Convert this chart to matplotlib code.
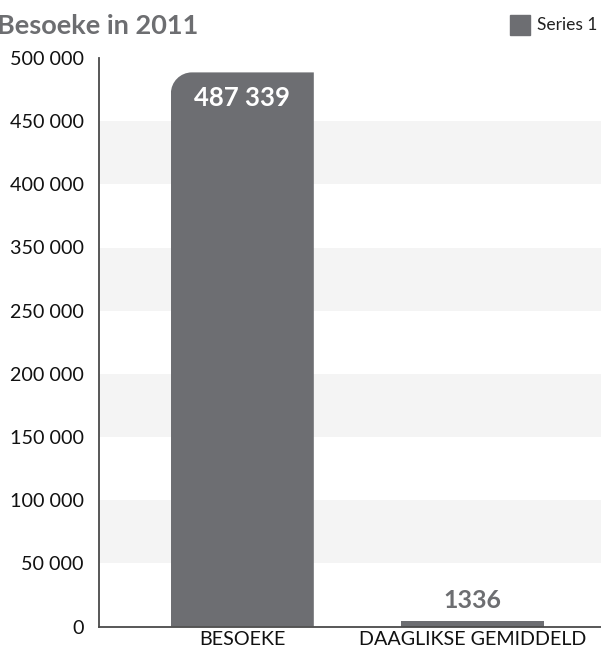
import numpy as np
import matplotlib
matplotlib.use("Agg")
import matplotlib.pyplot as plt
from matplotlib.path import Path
from matplotlib.patches import PathPatch
from matplotlib.transforms import IdentityTransform, offset_copy

# --- data -------------------------------------------------------------
categories = ["BESOEKE", "DAAGLIKSE GEMIDDELD"]
values = [487339, 1336]
value_labels = ["487 339", "1336"]
series_name = "Series 1"
title = "Besoeke in 2011"
y_max = 500000
y_tick_labels = ["0", "50 000", "100 000", "150 000", "200 000",
                 "250 000", "350 000", "400 000", "450 000", "500 000"]

# --- style ------------------------------------------------------------
BAR = "#6d6e72"
BAND = "#f4f4f4"
TEXT_GREY = "#6d6e71"
FONT = ["Lato", "DejaVu Sans"]

W, H, DPI = 601, 648, 100
fig = plt.figure(figsize=(W / DPI, H / DPI), dpi=DPI)
ax = fig.add_axes([99 / W, (H - 626.5) / H, (W - 99) / W, (626.5 - 58) / H])
ax.set_xlim(-0.622, 1.556)
ax.set_ylim(0, y_max)

tick_pos = np.linspace(0, y_max, len(y_tick_labels))

# alternating background bands
for i in range(1, len(tick_pos) - 1, 2):
    ax.axhspan(tick_pos[i], tick_pos[i + 1], color=BAND, lw=0, zorder=0)

# bars (tiny values get a minimum visible height)
min_h = y_max * 6 / 568.5
x = np.arange(len(categories))
heights = [max(v, min_h) for v in values]
bars = ax.bar(x, heights, width=0.62, color=BAR, zorder=2)

# axis styling
for s in ["top", "right"]:
    ax.spines[s].set_visible(False)
for s in ["left", "bottom"]:
    ax.spines[s].set_color("#4a4a4a")
    ax.spines[s].set_linewidth(1.3)
    ax.spines[s].set_zorder(3)
ax.set_yticks(tick_pos)
ax.set_yticklabels(y_tick_labels, fontsize=14.2, family=FONT, color="#111111")
ax.set_xticks(x)
ax.set_xticklabels(categories, fontsize=14.2, family=FONT, color="#111111")
ax.tick_params(axis="y", length=0, pad=11)
ax.tick_params(axis="x", length=0, pad=3)

# value labels
ax.text(x[0], values[0], value_labels[0], ha="center", va="top",
        fontsize=18.5, fontweight="bold", family=FONT, color="white",
        transform=offset_copy(ax.transData, fig=fig, y=-10, units="points"),
        zorder=4)
ax.annotate(value_labels[1], (x[1], heights[1]), xytext=(0, 6),
            textcoords="offset points", ha="center", va="bottom",
            fontsize=18, fontweight="bold", family=FONT, color=TEXT_GREY)

# round the top-left corner of the tall bar
fig.canvas.draw()
r = 21
b = bars[0]
(x0, y0) = ax.transData.transform((b.get_x(), 0))
(x1, y1) = ax.transData.transform((b.get_x() + b.get_width(), b.get_height()))
k = 0.5523 * r
verts = [(x0, y0), (x1, y0), (x1, y1), (x0 + r, y1),
         (x0 + r - k, y1), (x0, y1 - r + k), (x0, y1 - r), (x0, y0)]
codes = [Path.MOVETO, Path.LINETO, Path.LINETO, Path.LINETO,
         Path.CURVE4, Path.CURVE4, Path.CURVE4, Path.CLOSEPOLY]
clip = PathPatch(Path(verts, codes), transform=IdentityTransform())
b.set_clip_path(clip)

# title and legend
fig.text(-3 / W, 1 - 26 / H, title, ha="left", va="center", fontsize=19.5,
         fontweight="bold", family=FONT, color=TEXT_GREY)
fig.patches.append(plt.Rectangle((510 / W, 1 - 35 / H), 20 / W, 20 / H,
                                 transform=fig.transFigure, color=BAR,
                                 figure=fig))
fig.text(537 / W, 1 - 25 / H, series_name, ha="left", va="center",
         fontsize=12.5, family=FONT, color="#222222")

fig.savefig("out.png", dpi=DPI)
